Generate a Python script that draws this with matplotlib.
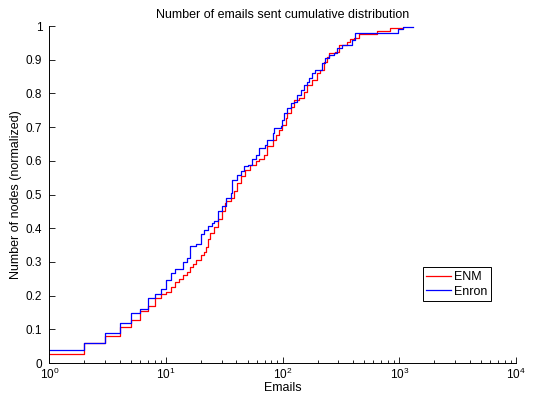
import numpy as np
import matplotlib
matplotlib.use("Agg")
import matplotlib.pyplot as plt
from matplotlib.ticker import LogLocator, FixedLocator, NullFormatter

plt.rcParams['font.family'] = ['Liberation Sans', 'DejaVu Sans']
plt.rcParams['font.size'] = 9

# Step positions (emails) and cumulative fraction
enm_x = [1, 2, 3, 4, 5, 6, 7, 8, 9, 10,
         11, 12, 13, 14, 15, 16, 17, 18, 20, 21,
         22, 23, 24, 26, 28, 30, 32, 33, 36, 38,
         41, 44, 48, 52, 59, 63, 69, 74, 82, 87,
         93, 99, 106, 110, 117, 125, 138, 152, 162, 179,
         197, 211, 225, 240, 248, 283, 302, 355, 380, 405,
         447, 640, 832, 1080]
enm_y = [0.028, 0.06, 0.081, 0.107, 0.128, 0.155, 0.168, 0.192, 0.204, 0.212,
         0.227, 0.24, 0.25, 0.26, 0.27, 0.285, 0.295, 0.305, 0.32, 0.33,
         0.345, 0.367, 0.385, 0.405, 0.428, 0.45, 0.475, 0.48, 0.49, 0.51,
         0.535, 0.554, 0.574, 0.589, 0.6, 0.604, 0.618, 0.643, 0.663, 0.678,
         0.692, 0.707, 0.727, 0.742, 0.761, 0.781, 0.786, 0.803, 0.825, 0.84,
         0.86, 0.87, 0.894, 0.909, 0.919, 0.924, 0.944, 0.954, 0.96, 0.965,
         0.975, 0.985, 0.993, 0.995]

enron_x = [1, 2, 3, 4, 5, 6, 7, 8, 9, 10,
           11, 12, 14, 15, 16, 18, 20, 21, 23, 25,
           26, 28, 30, 33, 36, 37, 41, 44, 47, 50,
           55, 59, 63, 70, 74, 82, 84, 96, 99, 103,
           110, 117, 125, 133, 143, 152, 162, 168, 179, 190,
           218, 232, 248, 273, 292, 322, 392, 419, 980, 1080,
           1320]
enron_y = [0.038, 0.06, 0.088, 0.12, 0.147, 0.16, 0.192, 0.206, 0.219, 0.246,
           0.268, 0.28, 0.3, 0.313, 0.347, 0.352, 0.382, 0.396, 0.406, 0.416,
           0.421, 0.45, 0.465, 0.49, 0.505, 0.544, 0.559, 0.569, 0.584, 0.589,
           0.604, 0.618, 0.638, 0.648, 0.663, 0.682, 0.697, 0.702, 0.722, 0.742,
           0.757, 0.771, 0.776, 0.796, 0.81, 0.825, 0.835, 0.845, 0.86, 0.87,
           0.89, 0.904, 0.914, 0.919, 0.934, 0.944, 0.959, 0.978, 0.99, 0.998,
           0.998]

y_ticks = [0, 0.1, 0.2, 0.3, 0.4, 0.5, 0.6, 0.7, 0.8, 0.9, 1]
y_tick_labels = ["0", "0.1", "0.2", "0.3", "0.4", "0.5", "0.6", "0.7", "0.8", "0.9", "1"]

fig = plt.figure(figsize=(5.33, 3.96), dpi=100)
ax = fig.add_axes([0.0925, 0.0833, 0.8756, 0.851])

ax.step(enm_x, enm_y, where="post", color="red", lw=0.9, label="ENM")
ax.step(enron_x, enron_y, where="post", color="blue", lw=0.9, label="Enron")

ax.set_xscale("log")
ax.set_xlim(1, 1e4)
ax.set_ylim(0, 1)
ax.yaxis.set_major_locator(FixedLocator(y_ticks))
ax.set_yticklabels(y_tick_labels)
ax.xaxis.set_major_locator(LogLocator(base=10, numticks=10))
ax.xaxis.set_minor_locator(LogLocator(base=10, subs=np.arange(2, 10), numticks=20))
ax.xaxis.set_minor_formatter(NullFormatter())

ax.spines["top"].set_visible(False)
ax.spines["right"].set_visible(False)
for s in ("left", "bottom"):
    ax.spines[s].set_linewidth(0.7)
ax.tick_params(which="both", direction="in", top=False, right=False, width=0.6)
ax.tick_params(which="major", length=4, labelsize=8.5)
ax.tick_params(which="minor", length=2)
ax.tick_params(axis="x", which="major", pad=3)
ax.tick_params(axis="y", which="major", pad=5)

ax.set_title("Number of emails sent cumulative distribution", fontsize=9, pad=6)
ax.set_xlabel("Emails", labelpad=0)
ax.set_ylabel("Number of nodes (normalized)", labelpad=3)

leg = ax.legend(loc="upper left", bbox_to_anchor=(0.8, 0.284), fancybox=False,
                edgecolor="black", framealpha=1, handlelength=2.0,
                handletextpad=0.2, borderpad=0.3, labelspacing=0.2,
                borderaxespad=0)
leg.get_frame().set_linewidth(0.7)

fig.savefig("out.png", dpi=100)
